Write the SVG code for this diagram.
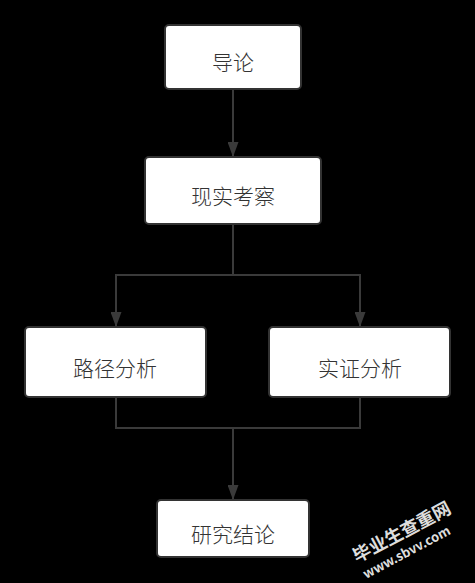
<svg xmlns="http://www.w3.org/2000/svg" width="475" height="583" viewBox="0 0 475 583">
<defs>
<style>
.node rect{fill:#ffffff;stroke:#333333;stroke-width:2}
.node text{font-family:"Noto Sans CJK SC","Noto Sans",sans-serif;font-size:21px;font-weight:300;fill:#333333;text-anchor:middle;dominant-baseline:central}
.edge{fill:none;stroke:#3a3a3a;stroke-width:2}
.wm{font-family:"Noto Sans CJK SC","Liberation Mono",monospace;fill:#dddddd;font-weight:bold}
</style>
<marker id="arr" viewBox="0 0 15 11" refX="14" refY="5.5" markerWidth="15" markerHeight="11" markerUnits="userSpaceOnUse" orient="auto">
<path d="M0,0 L15,5.5 L0,11 Z" fill="#3a3a3a"/>
</marker>
</defs>
<rect width="475" height="583" fill="#000000"/>
<g id="connectors">
<path class="edge" d="M233,89 V156" marker-end="url(#arr)"/>
<path class="edge" d="M233,224 V275 H116 V326" marker-end="url(#arr)"/>
<path class="edge" d="M233,275 H360 V326" marker-end="url(#arr)"/>
<path class="edge" d="M116,397 V428 H360 V397"/>
<path class="edge" d="M233,428 V499" marker-end="url(#arr)"/>
</g>
<g id="n1" class="node"><rect x="165" y="25" width="136" height="64" rx="4"/><text x="233" y="61">导论</text></g>
<g id="n2" class="node"><rect x="145" y="157" width="176" height="67" rx="4"/><text x="233" y="195">现实考察</text></g>
<g id="n3" class="node"><rect x="25" y="327" width="181" height="70" rx="4"/><text x="115" y="367">路径分析</text></g>
<g id="n4" class="node"><rect x="269" y="327" width="181" height="70" rx="4"/><text x="360" y="367">实证分析</text></g>
<g id="n5" class="node"><rect x="157" y="500" width="152" height="57" rx="4"/><text x="233" y="533">研究结论</text></g>
<g id="watermark">
<text class="wm" font-size="18" transform="translate(357,563) rotate(-28)">毕业生查重网</text>
<text class="wm" font-size="13" transform="translate(366,579) rotate(-28)">www.sbvv.com</text>
</g>
</svg>
